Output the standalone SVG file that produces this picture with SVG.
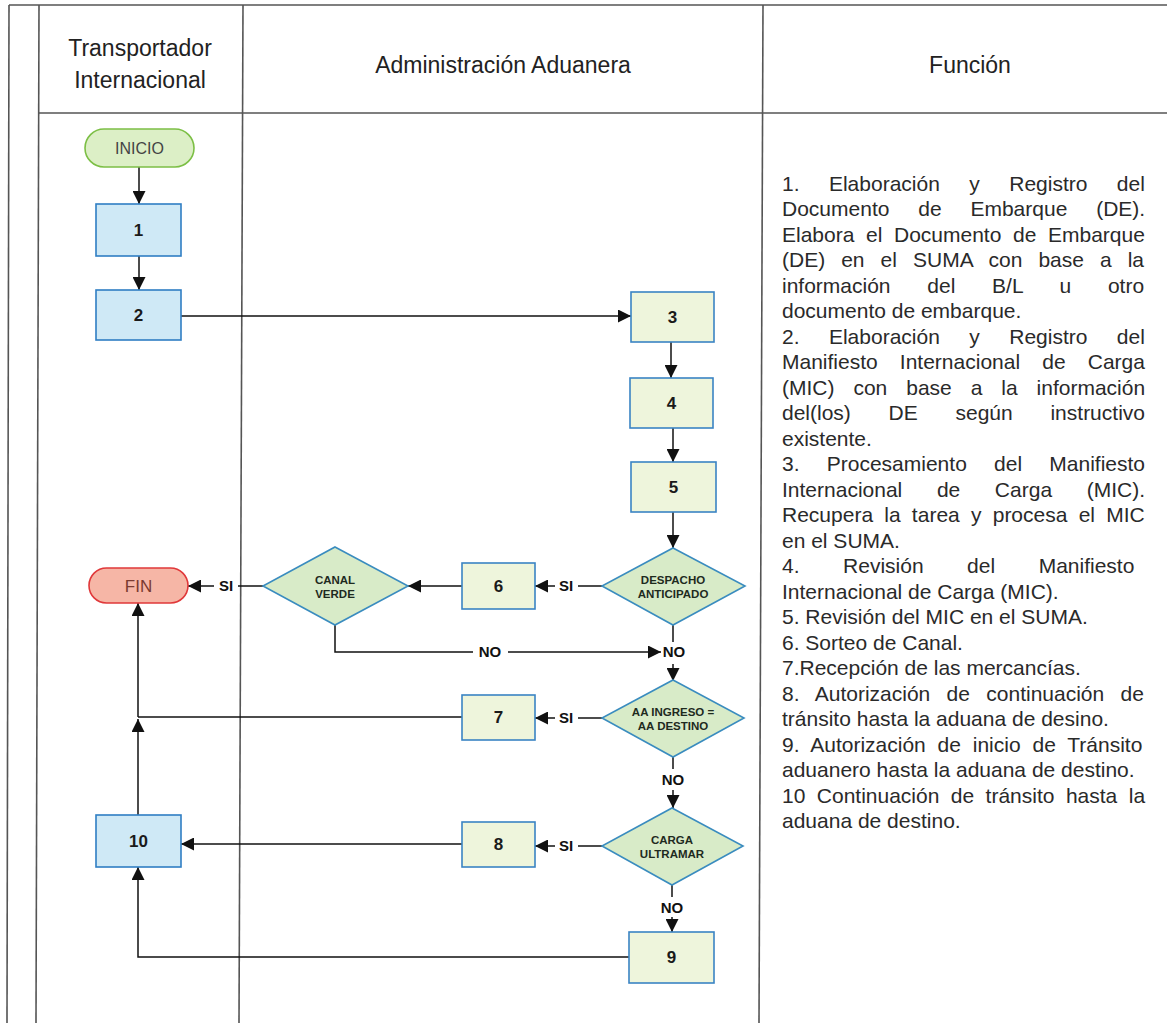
<svg xmlns="http://www.w3.org/2000/svg" width="1167" height="1023" viewBox="0 0 1167 1023">
<defs>
<marker id="ah" viewBox="0 0 10 10" refX="10" refY="5" markerWidth="13" markerHeight="13" markerUnits="userSpaceOnUse" orient="auto"><path d="M0,0 L10,5 L0,10 z" fill="#111"/></marker>
<style>
.grid{stroke:#555;stroke-width:1.6;fill:none}
.hdr{font-family:"Liberation Sans",Arial,sans-serif;font-size:23px;fill:#222;text-anchor:middle}
.fn{font-family:"Liberation Sans",Arial,sans-serif;font-size:21px;fill:#2a2a2a}
.blue{fill:#cfe9f6;stroke:#2f7ec4;stroke-width:1.6}
.grn{fill:#eef5dc;stroke:#3a84c4;stroke-width:1.6}
.dia{fill:#d8ebc8;stroke:#3a8cbf;stroke-width:1.6}
.num{font-family:"Liberation Sans",Arial,sans-serif;font-size:17px;font-weight:bold;fill:#1a1a1a;text-anchor:middle}
.dt{font-family:"Liberation Sans",Arial,sans-serif;font-size:11.5px;font-weight:bold;fill:#1e2a1e;text-anchor:middle}
.lbl{font-family:"Liberation Sans",Arial,sans-serif;font-size:15px;font-weight:bold;fill:#111;text-anchor:middle}
.cn{stroke:#111;stroke-width:1.5;fill:none}
.ar{marker-end:url(#ah)}
</style>
</defs>
<rect width="1167" height="1023" fill="#fff"/>
<g id="lanes">
<path class="grid" d="M9,5 H1167" stroke-width="2.2"/>
<path class="grid" d="M9,5 L7,1023"/>
<path class="grid" d="M39,5 L36,1023"/>
<path class="grid" d="M39,113 H1167" stroke-width="2"/>
<path class="grid" d="M243,5 L239,1023"/>
<path class="grid" d="M763,5 L759,1023"/>
<text class="hdr" x="140" y="56">Transportador</text>
<text class="hdr" x="140" y="88">Internacional</text>
<text class="hdr" x="503" y="73">Administración Aduanera</text>
<text class="hdr" x="970" y="73">Función</text>
</g>
<g id="connectors">
<path class="cn ar" d="M139,167 V204"/>
<path class="cn ar" d="M139,256 V290"/>
<path class="cn ar" d="M181,316 H631"/>
<path class="cn ar" d="M671,342 V378"/>
<path class="cn ar" d="M673,428 V462"/>
<path class="cn ar" d="M673,512 V548"/>
<path class="cn" d="M602,586 H578"/>
<text class="lbl" x="566" y="591">SI</text>
<path class="cn ar" d="M555,586 H535"/>
<path class="cn ar" d="M462,586 H408"/>
<path class="cn" d="M263,586 H238"/>
<text class="lbl" x="226" y="591">SI</text>
<path class="cn ar" d="M214,586 H188"/>
<path class="cn" d="M335,625 V652 H473"/>
<text class="lbl" x="490" y="657">NO</text>
<path class="cn ar" d="M508,652 H661"/>
<path class="cn" d="M673,625 V642"/>
<text class="lbl" x="674" y="657">NO</text>
<path class="cn ar" d="M673,664 V681"/>
<path class="cn" d="M602,718 H578"/>
<text class="lbl" x="566" y="723">SI</text>
<path class="cn ar" d="M555,718 H535"/>
<path class="cn" d="M462,717 H138"/>
<path class="cn ar" d="M138,717 V603"/>
<path class="cn ar" d="M138,815 V719"/>
<path class="cn" d="M673,757 V769"/>
<text class="lbl" x="673" y="785">NO</text>
<path class="cn ar" d="M673,790 V808"/>
<path class="cn" d="M602,846 H578"/>
<text class="lbl" x="566" y="851">SI</text>
<path class="cn ar" d="M555,846 H535"/>
<path class="cn ar" d="M462,844 H181"/>
<path class="cn" d="M672,885 V897"/>
<text class="lbl" x="672" y="913">NO</text>
<path class="cn ar" d="M672,917 V932"/>
<path class="cn ar" d="M629,957 H138 V867"/>
</g>
<g id="inicio"><rect x="85" y="129" width="109" height="38" rx="19" fill="#dcefc6" stroke="#7cbf45" stroke-width="1.6"/><text x="139.5" y="154" font-family="Liberation Sans, Arial, sans-serif" font-size="16" fill="#444" text-anchor="middle">INICIO</text></g>
<g id="n1"><rect class="blue" x="96" y="204" width="85" height="52"/><text class="num" x="138.5" y="236">1</text></g>
<g id="n2"><rect class="blue" x="96" y="290" width="85" height="50"/><text class="num" x="138.5" y="321">2</text></g>
<g id="n3"><rect class="grn" x="631" y="292" width="83" height="50"/><text class="num" x="672.5" y="323">3</text></g>
<g id="n4"><rect class="grn" x="630" y="378" width="83" height="50"/><text class="num" x="671.5" y="409">4</text></g>
<g id="n5"><rect class="grn" x="631" y="462" width="85" height="50"/><text class="num" x="673.5" y="493">5</text></g>
<g id="despacho"><path class="dia" d="M673,548 L745,586 L673,625 L602,586 Z"/><text class="dt" x="673" y="584">DESPACHO</text><text class="dt" x="673" y="598">ANTICIPADO</text></g>
<g id="n6"><rect class="grn" x="462" y="563" width="73" height="46"/><text class="num" x="498.5" y="592">6</text></g>
<g id="canalverde"><path class="dia" d="M335,547 L408,586 L335,625 L263,586 Z"/><text class="dt" x="335" y="584">CANAL</text><text class="dt" x="335" y="598">VERDE</text></g>
<g id="fin"><rect x="89" y="568" width="99" height="35" rx="17.5" fill="#f6b6a6" stroke="#e0383a" stroke-width="1.6"/><text x="138.5" y="592" font-family="Liberation Sans, Arial, sans-serif" font-size="17" fill="#7a3a30" text-anchor="middle">FIN</text></g>
<g id="aaingreso"><path class="dia" d="M673,680 L744,718 L673,757 L602,718 Z"/><text class="dt" x="673" y="716">AA INGRESO =</text><text class="dt" x="673" y="730">AA DESTINO</text></g>
<g id="n7"><rect class="grn" x="462" y="695" width="73" height="45"/><text class="num" x="498.5" y="723">7</text></g>
<g id="cargaultramar"><path class="dia" d="M672,808 L743,846 L672,885 L602,846 Z"/><text class="dt" x="672" y="844">CARGA</text><text class="dt" x="672" y="858">ULTRAMAR</text></g>
<g id="n8"><rect class="grn" x="462" y="822" width="73" height="45"/><text class="num" x="498.5" y="850">8</text></g>
<g id="n9"><rect class="grn" x="629" y="932" width="85" height="51"/><text class="num" x="671.5" y="963">9</text></g>
<g id="n10"><rect class="blue" x="96" y="815" width="85" height="52"/><text class="num" x="138.5" y="847">10</text></g>
<g id="funcion" class="fn">
<text x="782" y="190.5" word-spacing="23.6">1. Elaboración y Registro del</text>
<text x="782" y="216" word-spacing="23">Documento de Embarque (DE).</text>
<text x="782" y="241.5" word-spacing="5.8">Elabora el Documento de Embarque</text>
<text x="782" y="267" word-spacing="10.2">(DE) en el SUMA con base a la</text>
<text x="782" y="292.5" word-spacing="30.9">información del B/L u otro</text>
<text x="782" y="318">documento de embarque.</text>
<text x="782" y="343.5" word-spacing="23.6">2. Elaboración y Registro del</text>
<text x="782" y="369" word-spacing="16.3">Manifiesto Internacional de Carga</text>
<text x="782" y="394.5" word-spacing="13.1">(MIC) con base a la información</text>
<text x="782" y="420" word-spacing="31.9">del(los) DE según instructivo</text>
<text x="782" y="445.5">existente.</text>
<text x="782" y="471" word-spacing="21.4">3. Procesamiento del Manifiesto</text>
<text x="782" y="496.5" word-spacing="28.8">Internacional de Carga (MIC).</text>
<text x="782" y="522" word-spacing="5.4">Recupera la tarea y procesa el MIC</text>
<text x="782" y="547.5">en el SUMA.</text>
<text x="782" y="573" word-spacing="37.7">4. Revisión del Manifiesto</text>
<text x="782" y="598.5">Internacional de Carga (MIC).</text>
<text x="782" y="624">5. Revisión del MIC en el SUMA.</text>
<text x="782" y="649.5">6. Sorteo de Canal.</text>
<text x="782" y="675">7.Recepción de las mercancías.</text>
<text x="782" y="700.5" word-spacing="10.5">8. Autorización de continuación de</text>
<text x="782" y="726">tránsito hasta la aduana de desino.</text>
<text x="782" y="751.5" word-spacing="6">9. Autorización de inicio de Tránsito</text>
<text x="782" y="777">aduanero hasta la aduana de destino.</text>
<text x="782" y="802.5" word-spacing="5.6">10 Continuación de tránsito hasta la</text>
<text x="782" y="828">aduana de destino.</text>
</g>
</svg>
